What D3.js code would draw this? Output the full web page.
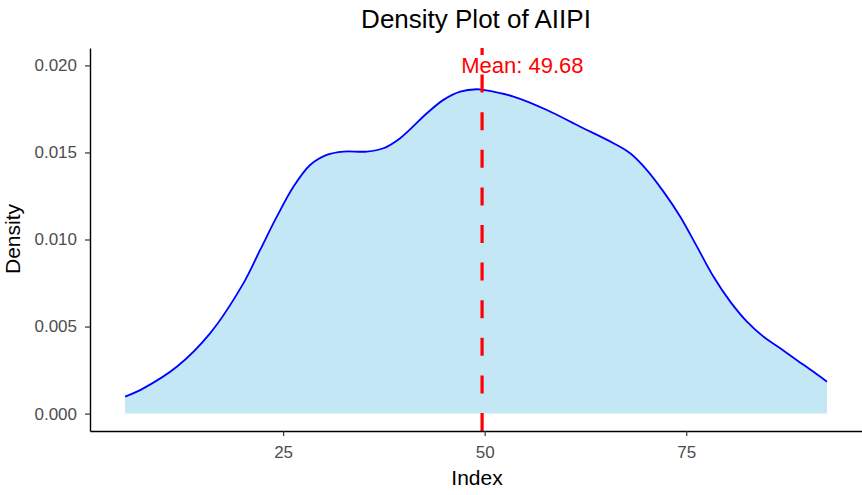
<!DOCTYPE html>
<html><head><meta charset="utf-8">
<script src="https://cdn.jsdelivr.net/npm/d3@7"></script>
<style>body{margin:0;background:#fff}svg{display:block}</style>
</head><body>
<script>
const densityX = [5.4,7.67,11.81,15.94,20.07,22.15,24.22,26.28,28.35,30.42,32.48,35.38,37.44,39.52,42.83,44.89,46.96,49.03,49.85,53.57,57.72,61.85,65.98,68.05,70.12,72.18,74.26,76.33,78.39,80.46,82.53,84.6,86.66,88.73,90.79,92.46];
const densityY = [0.00097,0.00145,0.00269,0.00461,0.00748,0.0094,0.01131,0.01303,0.01428,0.01486,0.01505,0.01505,0.01524,0.01582,0.01725,0.01802,0.01849,0.01863,0.01859,0.01821,0.01744,0.01648,0.01553,0.01495,0.01399,0.01275,0.01131,0.00959,0.00786,0.00643,0.00528,0.00441,0.00375,0.00307,0.0024,0.00183];
const meanValue = 49.68;
const xTicks = [25,50,75];
const yTicks = [0,0.005,0.010,0.015,0.020];
const titleText = "Density Plot of AIIPI";
const xLabel = "Index", yLabel = "Density";

const W=862,H=495;
const svg=d3.select("body").append("svg").attr("width",W).attr("height",H);
const font="Liberation Sans, Arial, sans-serif";
const x=d3.scaleLinear().domain([1.05,96.8]).range([90,862]);
const y=d3.scaleLinear().domain([-0.001,0.021]).range([431,48]);
const pts=densityX.map((d,i)=>[d,densityY[i]]);

svg.append("path").datum(pts)
  .attr("d",d3.area().x(d=>x(d[0])).y0(y(0)).y1(d=>y(d[1])).curve(d3.curveCatmullRom))
  .attr("fill","#c3e7f5");
svg.append("path").datum(pts)
  .attr("d",d3.line().x(d=>x(d[0])).y(d=>y(d[1])).curve(d3.curveCatmullRom))
  .attr("fill","none").attr("stroke","#0000ff").attr("stroke-width",1.8);

svg.append("line").attr("x1",x(meanValue)).attr("x2",x(meanValue))
  .attr("y1",y(-0.001)).attr("y2",y(0.021))
  .attr("stroke","#ff0000").attr("stroke-width",3.2).attr("stroke-dasharray","18,19.6");

svg.append("text").attr("x",x(meanValue+5)).attr("y",y(0.02)).attr("dy","0.35em")
  .attr("text-anchor","middle").attr("fill","#ff0000")
  .attr("font-family",font).attr("font-size",22).text("Mean: "+meanValue.toFixed(2));

const xa=svg.append("g").attr("transform","translate(0,431)")
  .call(d3.axisBottom(x).tickValues(xTicks).tickSize(5).tickSizeOuter(0).tickPadding(10).tickFormat(d3.format("d")));
const ya=svg.append("g").attr("transform","translate(90,0)")
  .call(d3.axisLeft(y).tickValues(yTicks).tickSize(5).tickSizeOuter(0).tickPadding(8).tickFormat(d3.format(".3f")));
[xa,ya].forEach(a=>{
  a.select(".domain").attr("stroke","#000").attr("stroke-width",1.4);
  a.selectAll(".tick line").attr("stroke","#333").attr("stroke-width",1.2);
  a.selectAll(".tick text").attr("fill","#4d4d4d").attr("font-family",font).attr("font-size",17);
});

svg.append("text").attr("x",476).attr("y",28).attr("text-anchor","middle")
  .attr("font-family",font).attr("font-size",26).attr("fill","#000").text(titleText);
svg.append("text").attr("x",477).attr("y",485).attr("text-anchor","middle")
  .attr("font-family",font).attr("font-size",21).attr("fill","#000").text(xLabel);
svg.append("text").attr("transform","translate(20,239) rotate(-90)").attr("text-anchor","middle")
  .attr("font-family",font).attr("font-size",21).attr("fill","#000").text(yLabel);
</script>
</body></html>
